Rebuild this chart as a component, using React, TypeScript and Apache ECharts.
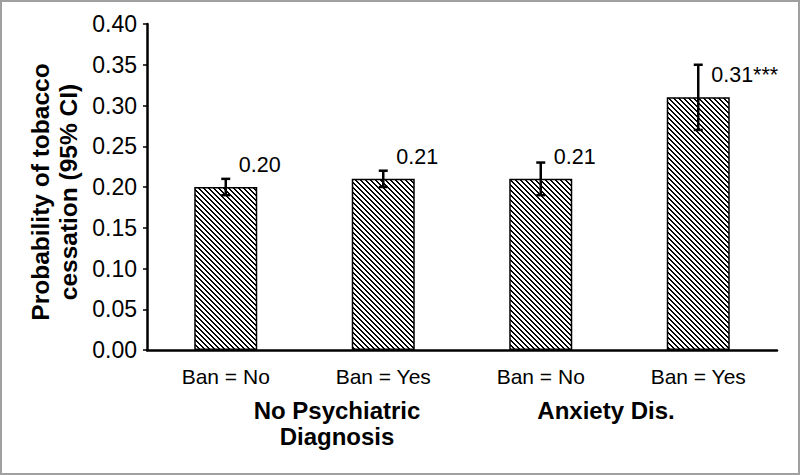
import React, { useEffect, useRef } from "react";
import * as echarts from "echarts";

const categories = ["Ban = No", "Ban = Yes", "Ban = No", "Ban = Yes"];
const groupLabels = ["No Psychiatric\nDiagnosis", "Anxiety Dis."];
const probabilities = [0.2, 0.21, 0.21, 0.31];
const ciLower = [0.19, 0.2, 0.19, 0.27];
const ciUpper = [0.21, 0.22, 0.23, 0.35];
const valueLabels = ["0.20", "0.21", "0.21", "0.31***"];
const yAxisTitle = "Probability of tobacco\ncessation (95% CI)";

const FONT = "'Liberation Sans', Arial, Helvetica, sans-serif";

function makePattern(): HTMLCanvasElement {
  const c = document.createElement("canvas");
  const n = 5;
  c.width = n;
  c.height = n;
  const ctx = c.getContext("2d")!;
  ctx.fillStyle = "#ffffff";
  ctx.fillRect(0, 0, n, n);
  ctx.fillStyle = "#000000";
  for (let i = 0; i < n; i++) {
    ctx.fillRect(i, i, 1, 1);
    ctx.fillRect((i + 1) % n, i, 1, 1);
  }
  return c;
}

export default function App() {
  const ref = useRef<HTMLDivElement>(null);
  useEffect(() => {
    if (!ref.current) return;
    const chart = echarts.init(ref.current, null, { renderer: "svg" });
    const pattern = makePattern();
    const errData = categories.map((_, i) => [i, ciLower[i], ciUpper[i], probabilities[i]]);
    chart.setOption({
      animation: false,
      backgroundColor: "#ffffff",
      grid: { left: 147, right: 23, top: 24, bottom: 125, containLabel: false },
      xAxis: {
        type: "category",
        data: categories,
        axisLine: { lineStyle: { color: "#000", width: 2.5 } },
        axisTick: { show: false },
        axisLabel: { color: "#000", fontSize: 21, fontFamily: FONT, margin: 16 },
      },
      yAxis: {
        type: "value",
        min: 0,
        max: 0.4,
        interval: 0.05,
        splitLine: { show: false },
        axisLine: { show: true, lineStyle: { color: "#000", width: 2.5 } },
        axisTick: { show: true, length: 4, lineStyle: { color: "#000", width: 1.5 } },
        axisLabel: {
          color: "#000",
          fontSize: 23,
          fontFamily: FONT,
          margin: 10,
          formatter: (v: number) => v.toFixed(2),
        },
      },
      series: [
        {
          type: "bar",
          data: probabilities,
          barWidth: "40%",
          itemStyle: {
            color: { image: pattern, repeat: "repeat" },
            borderColor: "#000",
            borderWidth: 1.5,
          },
        },
        {
          type: "custom",
          data: errData,
          encode: { x: 0, y: [1, 2] },
          z: 10,
          renderItem: (params: any, api: any) => {
            const idx = api.value(0);
            const lo = api.coord([idx, api.value(1)]);
            const hi = api.coord([idx, api.value(2)]);
            const top = api.coord([idx, api.value(3)]);
            const half = 4.5;
            const st = { stroke: "#000", lineWidth: 2.5 };
            return {
              type: "group",
              children: [
                { type: "line", shape: { x1: lo[0], y1: lo[1], x2: hi[0], y2: hi[1] }, style: st },
                { type: "line", shape: { x1: lo[0] - half, y1: lo[1], x2: lo[0] + half, y2: lo[1] }, style: st },
                { type: "line", shape: { x1: hi[0] - half, y1: hi[1], x2: hi[0] + half, y2: hi[1] }, style: st },
                {
                  type: "text",
                  x: top[0] + 13,
                  y: top[1] - 22,
                  style: {
                    text: valueLabels[params.dataIndex],
                    fill: "#000",
                    font: `21.5px ${FONT}`,
                    align: "left",
                    verticalAlign: "middle",
                  },
                },
              ],
            };
          },
        },
      ],
      graphic: [
        {
          type: "rect",
          shape: { x: 1, y: 1, width: 798, height: 473 },
          style: { fill: "none", stroke: "#a0a0a0", lineWidth: 2 },
          silent: true,
        },
        {
          type: "text",
          x: 54,
          y: 192,
          rotation: Math.PI / 2,
          style: {
            text: yAxisTitle,
            fill: "#000",
            font: `bold 24.5px ${FONT}`,
            lineHeight: 28,
            align: "center",
            verticalAlign: "middle",
          },
        },
        {
          type: "text",
          x: 337,
          y: 423,
          style: {
            text: groupLabels[0],
            fill: "#000",
            font: `bold 24px ${FONT}`,
            lineHeight: 26,
            align: "center",
            verticalAlign: "middle",
          },
        },
        {
          type: "text",
          x: 606,
          y: 410,
          style: {
            text: groupLabels[1],
            fill: "#000",
            font: `bold 24px ${FONT}`,
            align: "center",
            verticalAlign: "middle",
          },
        },
      ],
    });
    return () => chart.dispose();
  }, []);
  return (
    <div
      ref={ref}
      style={{ position: "absolute", left: 0, top: 0, width: 800, height: 475 }}
    />
  );
}
